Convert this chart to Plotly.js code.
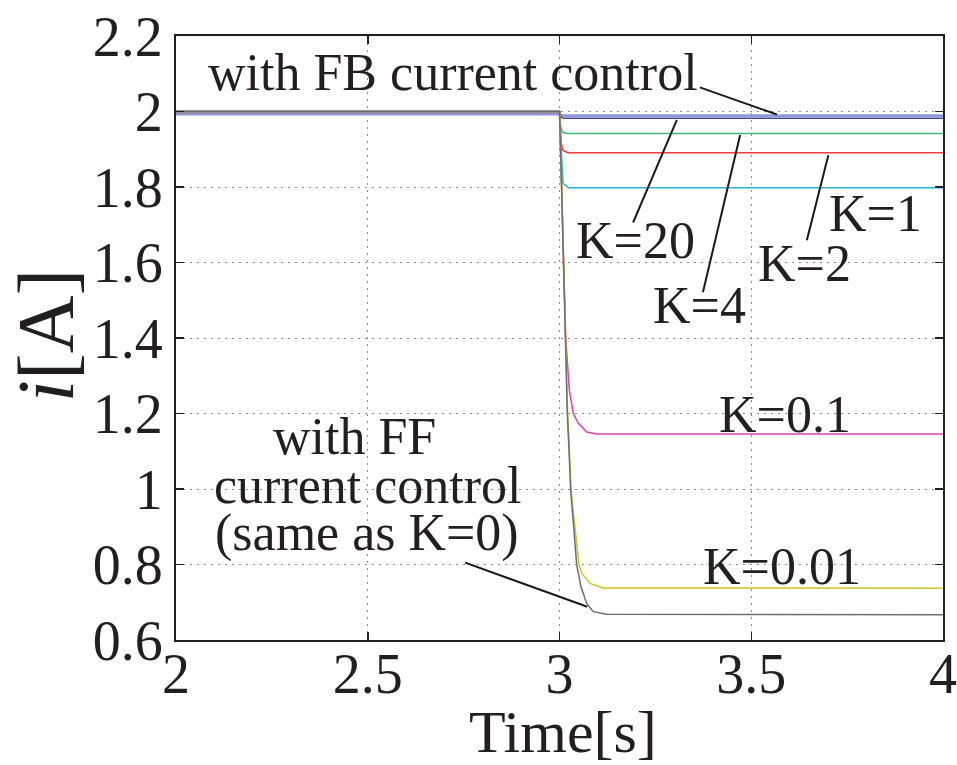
<!DOCTYPE html>
<html>
<head>
<meta charset="utf-8">
<script src="https://cdn.plot.ly/plotly-3.0.1.min.js"></script>
<style>
  html, body { margin: 0; padding: 0; background: #ffffff; }
  #chart { width: 957px; height: 765px; }
</style>
</head>
<body>
<div id="chart"></div>
<script>
// Current response to a load step at t = 3 s for different gains K

const seriesNames = ['FB', 'K=20', 'K=4', 'K=2', 'K=1', 'K=0.1', 'K=0.01', 'K=0'];

const tFB    = [2, 3, 3.003, 4];
const iFB    = [1.993, 1.993, 1.989, 1.989];

const tK20   = [2, 3, 3.004, 3.010, 4];
const iK20   = [2.0, 2.0, 1.985, 1.982, 1.982];

const tK4    = [2, 3, 3.003, 3.008, 3.020, 4];
const iK4    = [2.0, 2.0, 1.960, 1.945, 1.942, 1.942];

const tK2    = [2, 3, 3.004, 3.009, 3.022, 4];
const iK2    = [2.0, 2.0, 1.920, 1.897, 1.891, 1.891];

const tK1    = [2, 3, 3.003, 3.006, 3.009, 3.023, 4];
const iK1    = [2.0, 2.0, 1.930, 1.850, 1.810, 1.798, 1.798];

const tK01   = [2, 3, 3.0057, 3.0162, 3.0256, 3.036, 3.049, 3.071, 3.097, 4];
const iK01   = [2.0, 2.0, 1.791, 1.399, 1.262, 1.200, 1.174, 1.151, 1.146, 1.146];

const tK001  = [2, 3, 3.0057, 3.0148, 3.021, 3.0248, 3.030, 3.0509, 3.058, 3.0795, 3.1142, 4];
const iK001  = [2.0, 2.0, 1.791, 1.400, 1.200, 1.129, 0.997, 0.799, 0.777, 0.750, 0.738, 0.737];

const tK0    = [2, 3, 3.0057, 3.0143, 3.0203, 3.0248, 3.0292, 3.0449, 3.056, 3.0709, 3.0881, 3.1229, 4];
const iK0    = [2.0, 2.0, 1.791, 1.399, 1.201, 1.103, 0.997, 0.799, 0.741, 0.697, 0.675, 0.668, 0.667];

const xTicks = [2, 2.5, 3, 3.5, 4];
const xTickText = ['2', '2.5', '3', '3.5', '4'];
const yTicks = [0.6, 0.8, 1, 1.2, 1.4, 1.6, 1.8, 2, 2.2];
const yTickText = ['0.6', '0.8', '1', '1.2', '1.4', '1.6', '1.8', '2', '2.2'];

// label text and label position (t, i)
const labelText = ['with FB current control', 'K=20', 'K=4', 'K=2', 'K=1', 'K=0.1', 'K=0.01',
                   'with FF', 'current control', '(same as K=0)'];
const labelT = [2.722, 3.199, 3.366, 3.640, 3.823, 3.588, 3.580, 2.466, 2.500, 2.499];
const labelI = [2.103, 1.659, 1.487, 1.598, 1.730, 1.198, 0.796, 1.138, 1.010, 0.883];

// leader lines from (t, i) to (t, i)
const leaderFromT = [3.366, 3.192, 3.374, 3.645, 2.754];
const leaderFromI = [2.064, 1.706, 1.521, 1.659, 0.805];
const leaderToT   = [3.567, 3.306, 3.471, 3.701, 3.0726];
const leaderToI   = [1.992, 1.978, 1.938, 1.884, 0.688];

const serif = '"Liberation Serif", "Times New Roman", Times, serif';

const lineStyle = [
  {color: '#8e98d4', width: 2.6},
  {color: '#3a4a9e', width: 1.5},
  {color: '#3db77a', width: 1.5},
  {color: '#f03c3c', width: 1.5},
  {color: '#1fb3d1', width: 1.5},
  {color: '#e040b2', width: 1.5},
  {color: '#cbc521', width: 1.5},
  {color: '#6e6e6e', width: 1.5}
];

const tSets = [tFB, tK20, tK4, tK2, tK1, tK01, tK001, tK0];
const iSets = [iFB, iK20, iK4, iK2, iK1, iK01, iK001, iK0];

const traces = tSets.map((t, k) => ({
  type: 'scatter',
  mode: 'lines',
  name: seriesNames[k],
  x: t,
  y: iSets[k],
  line: {color: lineStyle[k].color, width: lineStyle[k].width},
  hoverinfo: 'x+y+name'
}));

const annotations = labelText.map((txt, k) => ({
  xref: 'x', yref: 'y',
  x: labelT[k], y: labelI[k],
  text: txt,
  showarrow: false,
  align: 'center',
  xanchor: 'center', yanchor: 'middle',
  font: {family: serif, size: 52, color: '#231f20'}
}));

annotations.push({
  xref: 'paper', yref: 'paper', x: 0.505, y: 0,
  yshift: -92, xanchor: 'center', yanchor: 'middle',
  text: 'Time[s]', showarrow: false,
  font: {family: serif, size: 60, color: '#231f20'}
});
annotations.push({
  xref: 'paper', yref: 'paper', x: 0, y: 0.503,
  xshift: -130, xanchor: 'center', yanchor: 'middle',
  textangle: -90,
  text: '<i>i</i>[A]', showarrow: false,
  font: {family: serif, size: 80, color: '#231f20'}
});

const shapes = leaderFromT.map((t0, k) => ({
  type: 'line', xref: 'x', yref: 'y',
  x0: t0, y0: leaderFromI[k], x1: leaderToT[k], y1: leaderToI[k],
  line: {color: '#1a1a1a', width: 2}
}));

const axisCommon = {
  showline: true, linecolor: '#231f20', linewidth: 2,
  mirror: 'ticks', ticks: 'inside', ticklen: 8, tickwidth: 1.5, tickcolor: '#231f20',
  showgrid: true, gridcolor: '#8a8a8a', gridwidth: 1, griddash: '1.5px,5.5px',
  zeroline: false,
  tickfont: {family: serif, size: 56, color: '#231f20'},
  tickmode: 'array'
};

const layout = {
  width: 957, height: 765,
  margin: {l: 176, r: 14, t: 36, b: 125, pad: 0},
  paper_bgcolor: '#ffffff', plot_bgcolor: '#ffffff',
  showlegend: false,
  xaxis: Object.assign({}, axisCommon, {
    range: [2, 4], tickvals: xTicks, ticktext: xTickText,
    ticklabelstandoff: -16
  }),
  yaxis: Object.assign({}, axisCommon, {
    range: [0.6, 2.2], tickvals: yTicks, ticktext: yTickText
  }),
  annotations: annotations,
  shapes: shapes
};

Plotly.newPlot('chart', traces, layout, {displayModeBar: false, staticPlot: true});
</script>
</body>
</html>
